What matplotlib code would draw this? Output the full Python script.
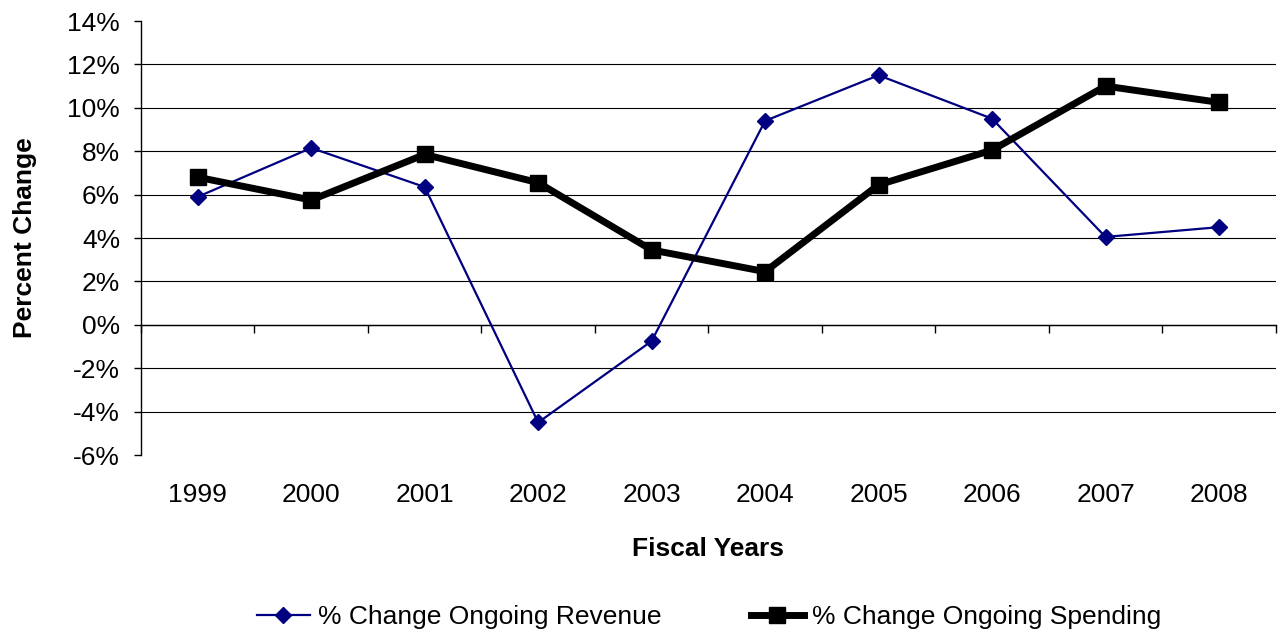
import numpy as np
import matplotlib
matplotlib.use("Agg")
import matplotlib.pyplot as plt
from matplotlib.ticker import FixedLocator, FuncFormatter

plt.rcParams['font.family'] = ['Liberation Sans', 'DejaVu Sans']

years = ['1999', '2000', '2001', '2002', '2003', '2004', '2005', '2006', '2007', '2008']
revenue = [5.9, 8.15, 6.35, -4.5, -0.75, 9.4, 11.5, 9.5, 4.05, 4.5]
spending = [6.8, 5.75, 7.85, 6.55, 3.45, 2.45, 6.45, 8.05, 11.0, 10.25]

fs = 19

fig = plt.figure(figsize=(12.82, 6.33), dpi=100)
ax = fig.add_axes([0.110, 0.2812, 0.8851, 0.6856])

x = np.arange(len(years))
ax.plot(x, revenue, color='#000080', lw=1.6, marker='D', ms=8,
        label='% Change Ongoing Revenue', zorder=3)
ax.plot(x, spending, color='black', lw=5, marker='s', ms=11,
        label='% Change Ongoing Spending', zorder=4)

ax.set_xlim(-0.5, len(years) - 0.5)
ax.set_ylim(-6, 14)

# y axis: ticks every 2%, horizontal grid inside the range
ax.set_yticks(np.arange(-6, 15, 2))
ax.yaxis.set_major_formatter(FuncFormatter(lambda v, p: f'{v:.0f}%'))
ax.tick_params(axis='y', direction='out', length=5, width=1, labelsize=fs, pad=10)
ax.yaxis.grid(True, color='black', lw=0.8)
gl = ax.yaxis.get_gridlines()
gl[0].set_visible(False)
gl[-1].set_visible(False)
ax.set_axisbelow(True)

# x axis line sits at zero, with ticks on category boundaries
ax.spines['bottom'].set_position(('data', 0))
ax.spines['bottom'].set_linewidth(1)
ax.spines['top'].set_visible(False)
ax.spines['right'].set_visible(False)
ax.spines['left'].set_linewidth(1)
ax.xaxis.set_major_locator(FixedLocator(x))
ax.xaxis.set_minor_locator(FixedLocator(np.arange(-0.5, len(years), 1.0)))
ax.tick_params(axis='x', which='major', length=0, labelbottom=False)
ax.tick_params(axis='x', which='minor', direction='out', length=6, width=1)

# year labels along the bottom of the plot area
sec = ax.secondary_xaxis('bottom')
sec.set_xticks(x)
sec.set_xticklabels(years)
sec.tick_params(length=0, labelsize=fs, pad=20)
sec.spines['bottom'].set_visible(False)
sec.set_xlabel('Fiscal Years', fontsize=fs, fontweight='bold', labelpad=22)

ax.set_ylabel('Percent Change', fontsize=fs, fontweight='bold', labelpad=22)

fig.legend(loc='lower center', bbox_to_anchor=(0.553, -0.031), ncol=2, frameon=False,
           fontsize=fs, columnspacing=3.4, handlelength=2.0, handletextpad=0.3)

fig.savefig('out.png', dpi=100)
